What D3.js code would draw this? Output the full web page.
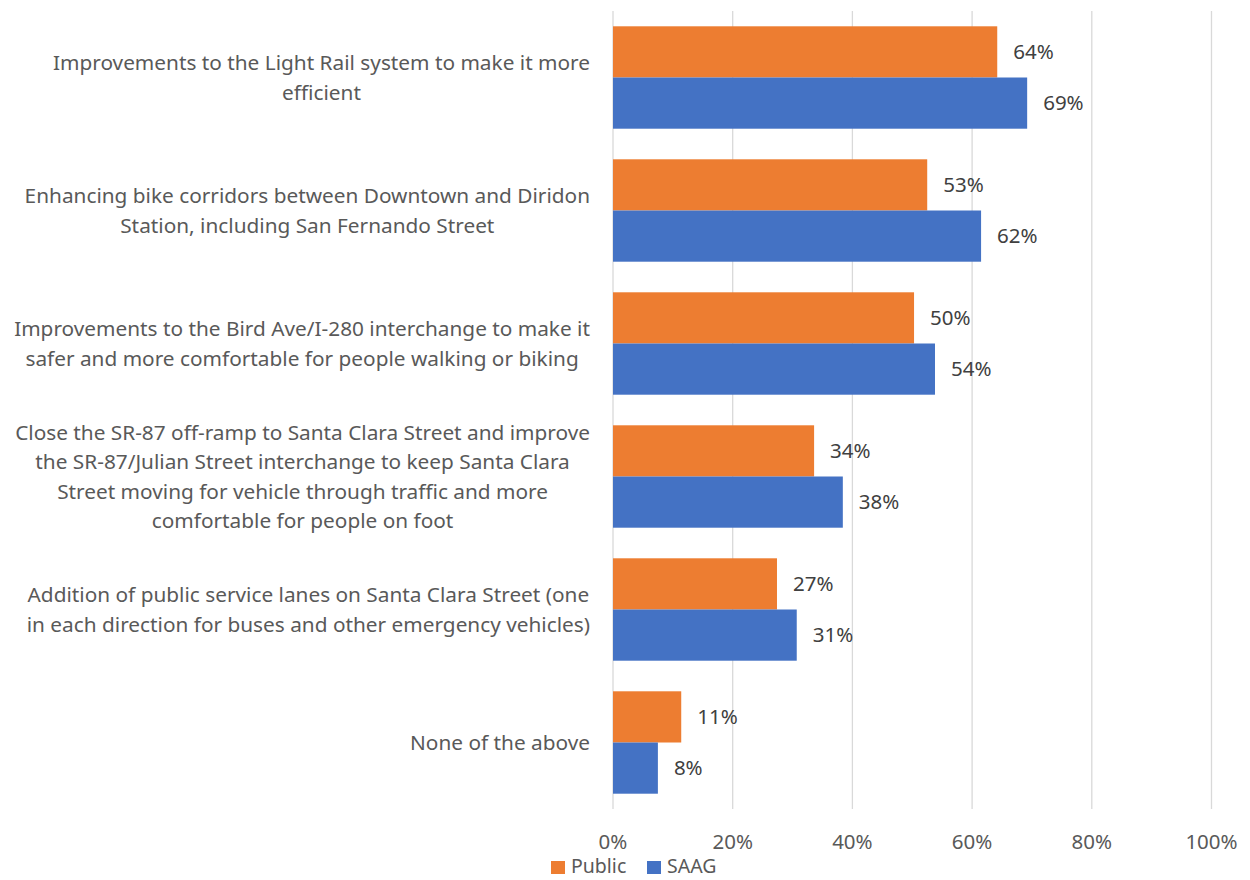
<!DOCTYPE html>
<html>
<head>
<meta charset="utf-8">
<script src="https://cdn.jsdelivr.net/npm/d3@7"></script>
<style>
  body { margin: 0; background: #fff; }
  svg text { font-family: "Noto Sans", "Open Sans", sans-serif; }
</style>
</head>
<body>
<div id="chart"></div>
<script>
// data
const categories = [
  ["Improvements to the Light Rail system to make it more", "efficient"],
  ["Enhancing bike corridors between Downtown and Diridon", "Station, including San Fernando Street"],
  ["Improvements to the Bird Ave/I-280 interchange to make it", "safer and more comfortable for people walking or biking"],
  ["Close the SR-87 off-ramp to Santa Clara Street and improve", "the SR-87/Julian Street interchange to keep Santa Clara", "Street moving for vehicle through traffic and more", "comfortable for people on foot"],
  ["Addition of public service lanes on Santa Clara Street (one", "in each direction for buses and other emergency vehicles)"],
  ["None of the above"]
];
const publicVals = [64.2, 52.5, 50.3, 33.6, 27.4, 11.4];
const saagVals = [69.2, 61.5, 53.8, 38.4, 30.7, 7.5];
const seriesNames = ["Public", "SAAG"];
const seriesColors = ["#ED7D31", "#4472C4"];
const xTicks = [0, 20, 40, 60, 80, 100];

(function(){
  const W = 1250, H = 880;
  const left = 613, right = 1211.5, top = 11, bottom = 809;

  const svg = d3.select("#chart").append("svg").attr("width", W).attr("height", H);

  const x = d3.scaleLinear().domain([0, 100]).range([left, right]);
  const y = d3.scaleBand().domain(d3.range(categories.length)).range([top, bottom]).paddingInner(0.23).paddingOuter(0.115);
  const sub = d3.scaleBand().domain([0, 1]).range([0, y.bandwidth()]);

  // gridlines
  svg.append("g").selectAll("line").data(xTicks).join("line")
    .attr("x1", d => x(d)).attr("x2", d => x(d))
    .attr("y1", top).attr("y2", bottom)
    .attr("stroke", "#D9D9D9").attr("stroke-width", 1.3);

  // tick labels
  svg.append("g").selectAll("text").data(xTicks).join("text")
    .attr("x", d => x(d)).attr("y", 841.5).attr("dy", "0.35em")
    .attr("text-anchor", "middle").attr("font-size", 20.5).attr("fill", "#595959")
    .text(d => d + "%");

  const series = [publicVals, saagVals];
  series.forEach(function(vals, s){
    const g = svg.append("g");
    g.selectAll("rect").data(vals).join("rect")
      .attr("x", x(0))
      .attr("y", (d, i) => y(i) + sub(s))
      .attr("width", d => x(d) - x(0))
      .attr("height", sub.bandwidth())
      .attr("fill", seriesColors[s]);
    g.selectAll("text").data(vals).join("text")
      .attr("x", d => x(d) + 16)
      .attr("y", (d, i) => y(i) + sub(s) + sub.bandwidth() / 2)
      .attr("dy", "0.35em")
      .attr("font-size", 20.5).attr("fill", "#404040")
      .text(d => Math.round(d) + "%");
  });

  // category labels: lines centred within block, block right-aligned
  const lineH = 29.5;
  categories.forEach(function(lines, i){
    const cy = y(i) + y.bandwidth() / 2;
    const t = svg.append("text").attr("font-size", 20.8).attr("fill", "#595959").attr("text-anchor", "middle");
    const spans = lines.map((ln, k) => t.append("tspan")
      .attr("y", cy + (k - (lines.length - 1) / 2) * lineH)
      .attr("dy", "0.35em")
      .text(ln));
    const maxW = d3.max(spans, sp => sp.node().getComputedTextLength());
    spans.forEach(sp => sp.attr("x", 590 - maxW / 2));
  });

  // legend
  const legX = [551, 647];
  seriesNames.forEach(function(name, s){
    svg.append("rect").attr("x", legX[s]).attr("y", 861).attr("width", 14).attr("height", 13).attr("fill", seriesColors[s]);
    svg.append("text").attr("x", legX[s] + 20).attr("y", 866).attr("dy", "0.35em")
      .attr("font-size", 19.5).attr("fill", "#595959").text(name);
  });
})();
</script>
</body>
</html>
